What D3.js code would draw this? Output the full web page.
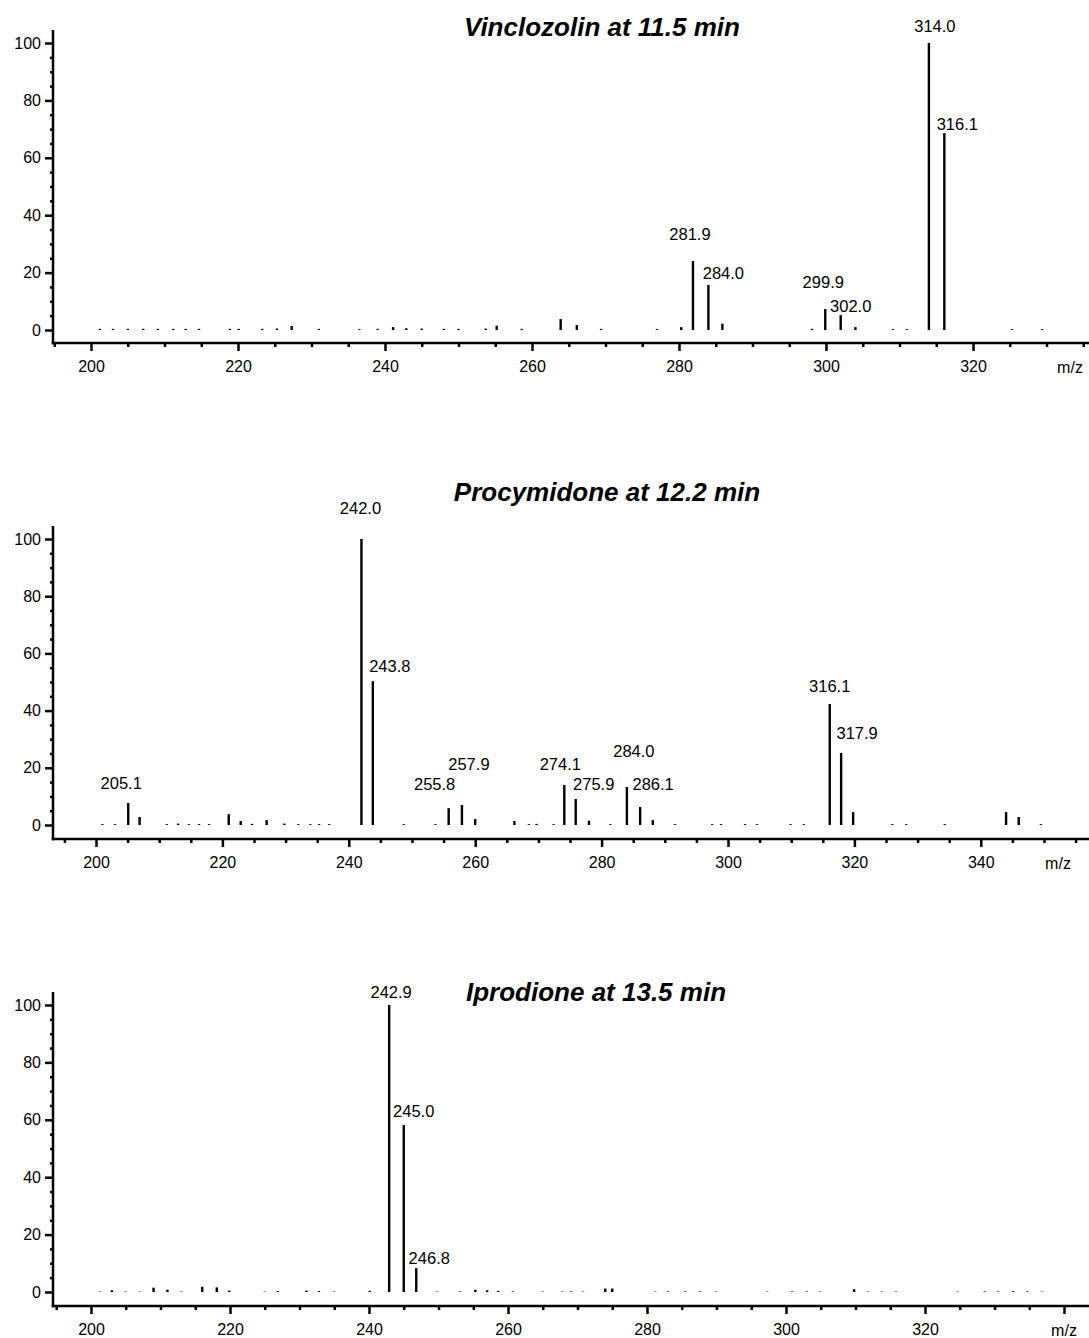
<!DOCTYPE html>
<html>
<head>
<meta charset="utf-8">
<script src="https://cdn.jsdelivr.net/npm/d3@7"></script>
<style>
  body { margin: 0; background: #fff; }
  svg { display: block; }
  text { font-family: "Liberation Sans", Arial, sans-serif; fill: #000; }
</style>
</head>
<body>
<svg id="chart" width="1089" height="1338"></svg>
<script>
// ---- data ----
const yTicks = [0, 20, 40, 60, 80, 100];
const xTickLabels = [200, 220, 240, 260, 280, 300, 320, 340];

const vinclozolinTitle = "Vinclozolin at 11.5 min";
const vinclozolinMz = [201.2, 203.0, 205.0, 207.1, 209.1, 211.2, 212.9, 214.7, 218.9, 220.1, 223.3, 225.3, 227.3,
  231.0, 236.5, 239.0, 241.1, 242.9, 245.0, 248.0, 250.0, 253.7, 255.2, 258.6, 263.9, 266.1, 269.4, 277.0, 280.3,
  281.9, 284.0, 285.9, 298.1, 299.9, 302.0, 304.0, 309.1, 311.0, 314.0, 316.1, 325.3, 329.4];
const vinclozolinInt = [0.4, 0.4, 0.4, 0.4, 0.4, 0.4, 0.4, 0.4, 0.4, 0.4, 0.4, 0.5, 1.4,
  0.4, 0.3, 0.4, 1.0, 0.6, 0.5, 0.4, 0.4, 0.5, 1.5, 0.4, 3.8, 1.7, 0.4, 0.3, 1.0,
  24.0, 15.7, 2.2, 0.4, 7.3, 5.2, 1.0, 0.3, 0.3, 100, 68.6, 0.3, 0.3];
const vinclozolinLabels = ["281.9", "284.0", "299.9", "302.0", "314.0", "316.1"];

const procymidoneTitle = "Procymidone at 12.2 min";
const procymidoneMz = [201.0, 203.0, 205.1, 206.9, 211.2, 213.0, 214.7, 216.3, 217.9, 221.0, 222.9, 224.7, 227.0,
  229.8, 232.0, 233.9, 235.3, 236.9, 242.0, 243.8, 248.7, 253.7, 255.8, 257.9, 260.0, 266.2, 268.5, 269.7, 272.4,
  274.1, 275.9, 278.0, 281.4, 284.0, 286.1, 288.1, 291.6, 297.5, 298.9, 302.7, 304.6, 309.9, 312.0,
  316.1, 317.9, 319.8, 326.0, 328.2, 334.3, 344.0, 346.0, 349.5];
const procymidoneInt = [0.3, 0.3, 7.7, 2.8, 0.3, 0.5, 0.3, 0.3, 0.3, 3.8, 1.4, 0.4, 1.7,
  0.5, 0.3, 0.3, 0.3, 0.3, 100, 50.3, 0.3, 0.3, 5.9, 7.0, 2.1, 1.4, 0.3, 0.4, 0.3,
  14.0, 9.1, 1.5, 0.3, 13.3, 6.3, 1.7, 0.3, 0.3, 0.3, 0.3, 0.3, 0.3, 0.3,
  42.3, 25.2, 4.5, 0.3, 0.3, 0.3, 4.5, 2.8, 0.3];
const procymidoneLabels = ["205.1", "242.0", "243.8", "255.8", "257.9", "274.1", "275.9", "284.0", "286.1", "316.1", "317.9"];

const iprodioneTitle = "Iprodione at 13.5 min";
const iprodioneMz = [201.3, 203.0, 205.0, 207.0, 209.0, 211.0, 213.0, 216.0, 218.1, 219.9, 225.0, 226.9, 231.0,
  232.8, 235.0, 240.1, 242.9, 245.0, 246.8, 249.8, 253.1, 255.3, 257.0, 258.6, 260.7, 265.0, 267.8, 269.1, 270.8,
  274.0, 275.0, 281.2, 283.0, 285.5, 287.6, 289.9, 297.3, 300.9, 303.0, 304.9, 309.8, 311.8, 313.8, 315.8,
  324.7, 328.6, 330.5, 332.7, 334.7, 336.8];
const iprodioneInt = [0.15, 0.6, 0.15, 0.15, 1.5, 0.8, 0.15, 1.8, 1.6, 0.5, 0.15, 0.3, 0.5,
  0.3, 0.15, 0.4, 100, 58.2, 8.3, 0.15, 0.2, 0.8, 0.6, 0.4, 0.2, 0.15, 0.15, 0.2, 0.15,
  1.2, 1.2, 0.15, 0.2, 0.2, 0.2, 0.15, 0.15, 0.2, 0.2, 0.15, 1.0, 0.15, 0.15, 0.15,
  0.15, 0.2, 0.2, 0.3, 0.2, 0.15];
const iprodioneLabels = ["242.9", "245.0", "246.8"];

// ---- layout of the three panels (pixels) ----
const left = 53, right = 1089;
const panels = [
  {title: vinclozolinTitle, mz: vinclozolinMz, int: vinclozolinInt, labels: vinclozolinLabels,
   axisTop: 30, y0: 330, y100: 43, base: 343, x200: 91, ppu: 7.35, titleX: 602, titleY: 36, mzX: 1070,
   // label centre / baseline offsets from the peak top
   off: {"281.9": [-3, -21], "284.0": [15, -6], "299.9": [-2, -21], "302.0": [10, -3], "314.0": [6, -11], "316.1": [13, -3]}},
  {title: procymidoneTitle, mz: procymidoneMz, int: procymidoneInt, labels: procymidoneLabels,
   axisTop: 526, y0: 825, y100: 539, base: 839, x200: 96, ppu: 6.32, titleX: 607, titleY: 501, mzX: 1058,
   off: {"205.1": [-7, -14], "242.0": [-1, -25], "243.8": [17, -9], "255.8": [-14, -18], "257.9": [7, -35],
         "274.1": [-4, -15], "275.9": [18, -9], "284.0": [7, -30], "286.1": [13, -17], "316.1": [0, -12], "317.9": [16, -14]}},
  {title: iprodioneTitle, mz: iprodioneMz, int: iprodioneInt, labels: iprodioneLabels,
   axisTop: 992, y0: 1292, y100: 1005, base: 1306, x200: 91, ppu: 6.95, titleX: 596, titleY: 1001, mzX: 1064,
   off: {"242.9": [2, -7], "245.0": [10, -8], "246.8": [13, -4]}}
];

const svg = d3.select("#chart");

panels.forEach(p => {
  const x = d3.scaleLinear()
    .domain([200 - (p.x200 - left) / p.ppu, 200 + (right - p.x200) / p.ppu])
    .range([left, right]);
  const y = d3.scaleLinear().domain([0, 100]).range([p.y0, p.y100]);
  const g = svg.append("g");

  // x axis: labelled ticks every 20, minor every 5
  const [d0, d1] = x.domain();
  const minor = d3.range(Math.ceil(d0 / 5) * 5, d1, 5).filter(v => v % 20 !== 0);
  const majors = xTickLabels.filter(v => v >= d0 && v <= d1);

  const xMinor = g.append("g").attr("transform", `translate(0,${p.base})`)
    .call(d3.axisBottom(x).tickValues(minor).tickSize(4).tickSizeOuter(0).tickFormat(""));
  const xMajor = g.append("g").attr("transform", `translate(0,${p.base})`)
    .call(d3.axisBottom(x).tickValues(majors).tickSize(8).tickSizeOuter(0).tickPadding(10)
      .tickFormat(v => (x(v) > p.mzX - 35 ? "" : v)));
  [xMinor, xMajor].forEach(a => {
    a.select(".domain").remove();
    a.selectAll("line").attr("stroke", "#000").attr("stroke-width", 2.5);
  });
  xMajor.selectAll("text").attr("font-size", 16).attr("fill", "#000")
    .attr("font-family", "'Liberation Sans', Arial, sans-serif");

  // y axis
  const yMinor = g.append("g").attr("transform", `translate(${left},0)`)
    .call(d3.axisLeft(y).tickValues(d3.range(5, 100, 5).filter(v => v % 20 !== 0)).tickSize(3).tickFormat(""));
  const yMajor = g.append("g").attr("transform", `translate(${left},0)`)
    .call(d3.axisLeft(y).tickValues(yTicks).tickSize(8).tickPadding(4));
  [yMinor, yMajor].forEach(a => {
    a.select(".domain").remove();
    a.selectAll("line").attr("stroke", "#000").attr("stroke-width", 2.5);
  });
  yMajor.selectAll("text").attr("font-size", 16).attr("fill", "#000")
    .attr("font-family", "'Liberation Sans', Arial, sans-serif");

  // axis lines
  g.append("line").attr("x1", left).attr("x2", left).attr("y1", p.axisTop).attr("y2", p.base + 1.25)
    .attr("stroke", "#000").attr("stroke-width", 2.5);
  g.append("line").attr("x1", left - 1.25).attr("x2", right).attr("y1", p.base).attr("y2", p.base)
    .attr("stroke", "#000").attr("stroke-width", 2.5);

  g.append("text").attr("x", p.mzX).attr("y", p.base + 30).attr("text-anchor", "middle")
    .attr("font-size", 16).text("m/z");

  // sticks
  const peaks = p.mz.map((m, i) => ({mz: m, int: p.int[i]}));
  g.append("g").selectAll("line").data(peaks).join("line")
    .attr("x1", d => x(d.mz)).attr("x2", d => x(d.mz))
    .attr("y1", y(0)).attr("y2", d => y(d.int))
    .attr("stroke", "#000").attr("stroke-width", 2.4);

  // peak labels
  g.append("g").selectAll("text").data(p.labels).join("text")
    .attr("x", t => x(+t) + p.off[t][0])
    .attr("y", t => y(peaks.find(d => d.mz === +t).int) + p.off[t][1])
    .attr("text-anchor", "middle")
    .attr("font-size", 16.5)
    .text(t => t);

  // title
  g.append("text").attr("x", p.titleX).attr("y", p.titleY).attr("text-anchor", "middle")
    .attr("font-size", 26).attr("font-weight", "bold").attr("font-style", "italic")
    .text(p.title);
});
</script>
</body>
</html>
